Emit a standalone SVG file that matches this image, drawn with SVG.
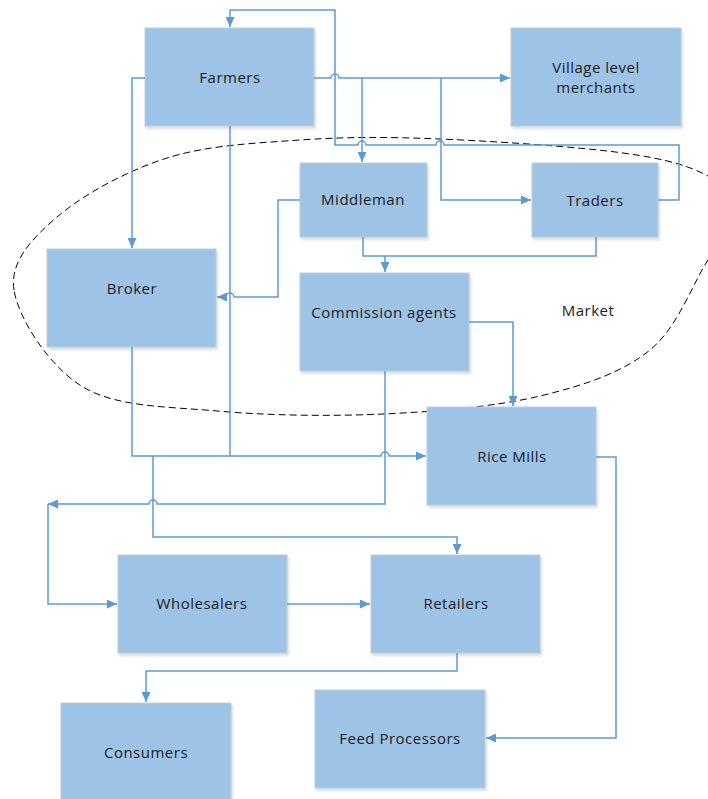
<svg xmlns="http://www.w3.org/2000/svg" width="708" height="799" viewBox="0 0 708 799">
  <style>
    .node rect { fill: #9dc3e6; stroke: #c6ccd3; stroke-width: 1; filter: url(#shadow); }
    .node text { font-family: "Open Sans", "Liberation Sans", sans-serif; font-size: 15px; letter-spacing: 0.5px; fill: #1c1c1c; text-anchor: middle; }
    .label { font-family: "Open Sans", "Liberation Sans", sans-serif; font-size: 15px; letter-spacing: 0.5px; fill: #1c1c1c; text-anchor: middle; }
    .conn path { fill: none; stroke: #5b9bd5; stroke-width: 1.5; }
    .conn path.arrow { marker-end: url(#arrowhead); }
    .market { fill: none; stroke: #000; stroke-width: 1; stroke-dasharray: 7 4; }
  </style>
  <defs>
    <marker id="arrowhead" markerUnits="userSpaceOnUse" markerWidth="11" markerHeight="9" refX="10" refY="4.5" orient="auto">
      <path d="M0,0 L10,4.5 L0,9 z" fill="#5b9bd5"/>
    </marker>
    <filter id="shadow" x="-5%" y="-5%" width="115%" height="120%">
      <feDropShadow dx="1.5" dy="2.5" stdDeviation="1.2" flood-color="#8aa4bf" flood-opacity="0.35"/>
    </filter>
  </defs>

  <rect width="708" height="799" fill="#ffffff"/>

  <!-- market boundary -->
  <path class="market" d="M14,290 C9.7,261.7 31.5,239 57,217 C82.5,195 126.5,170.8 167,158 C207.5,145.2 254.5,143.2 300,140 C345.5,136.8 386.2,136.8 440,139 C493.8,141.2 578.3,146.8 623,153 C667.7,159.2 688.5,165.7 708,176 C727.5,186.3 740,201 740,215 C740,229 723,237.5 708,260 C693,282.5 678,327.3 650,350 C622,372.7 584.5,385.3 540,396 C495.5,406.7 436.8,411.5 383,414 C329.2,416.5 267,415.5 217,411 C167,406.5 116.8,407.2 83,387 C49.2,366.8 18.3,318.3 14,290 Z"/>
  <text class="label" x="588" y="316">Market</text>

  <!-- nodes -->
  <g id="farmers" class="node"><rect x="145" y="28" width="169" height="98"/><text x="230" y="83">Farmers</text></g>
  <g id="village-merchants" class="node"><rect x="511" y="28" width="170" height="98"/><text x="596" y="73">Village level</text><text x="596" y="93">merchants</text></g>
  <g id="middleman" class="node"><rect x="300" y="163" width="127" height="74"/><text x="363" y="205">Middleman</text></g>
  <g id="traders" class="node"><rect x="532" y="163" width="126" height="74"/><text x="595" y="206">Traders</text></g>
  <g id="broker" class="node"><rect x="47" y="249" width="169" height="98"/><text x="132" y="294">Broker</text></g>
  <g id="commission-agents" class="node"><rect x="300" y="273" width="169" height="98"/><text x="384" y="318">Commission agents</text></g>
  <g id="rice-mills" class="node"><rect x="427" y="407" width="169" height="98"/><text x="512" y="462">Rice Mills</text></g>
  <g id="wholesalers" class="node"><rect x="118" y="555" width="169" height="98"/><text x="202" y="609">Wholesalers</text></g>
  <g id="retailers" class="node"><rect x="371" y="555" width="169" height="98"/><text x="456" y="609">Retailers</text></g>
  <g id="consumers" class="node"><rect x="61" y="703" width="170" height="100"/><text x="146" y="758">Consumers</text></g>
  <g id="feed-processors" class="node"><rect x="315" y="690" width="170" height="98"/><text x="400" y="744">Feed Processors</text></g>

  <!-- connectors -->
  <g id="connectors" class="conn">
    <!-- traders back to farmers, hopping over the farmer branches -->
    <path class="arrow" d="M658,200 H679 V145 H444 A4,4 0 0 0 436,145 H366 A4,4 0 0 0 358,145 H335 V10 H230 V27"/>
    <!-- farmers to village level merchants -->
    <path class="arrow" d="M314,78 H331 A4,4 0 0 1 339,78 H510"/>
    <!-- farmers to middleman -->
    <path class="arrow" d="M362,78 V162"/>
    <!-- farmers to traders -->
    <path class="arrow" d="M441,78 V200 H531"/>
    <!-- farmers to broker -->
    <path class="arrow" d="M145,78 H132 V248"/>
    <!-- farmers down to the rice mill line -->
    <path d="M230,126 V456"/>
    <!-- broker to rice mills -->
    <path class="arrow" d="M132,347 V456 H381 A4,4 0 0 1 389,456 H426"/>
    <!-- middleman to broker -->
    <path class="arrow" d="M300,200 H278 V297 H234 A4,4 0 0 0 226,297 H217"/>
    <!-- middleman and traders to commission agents -->
    <path d="M363,237 V256 H596 V237"/>
    <path class="arrow" d="M385,256 V272"/>
    <!-- commission agents to rice mills -->
    <path class="arrow" d="M469,322 H513 V406"/>
    <!-- commission agents to the wholesale route -->
    <path class="arrow" d="M385,371 V504 H157 A4,4 0 0 0 149,504 H48"/>
    <path class="arrow" d="M48,504 V604 H117"/>
    <!-- broker/farmers to retailers -->
    <path class="arrow" d="M153,456 V537 H457 V554"/>
    <!-- wholesalers to retailers -->
    <path class="arrow" d="M287,604 H370"/>
    <!-- retailers to consumers -->
    <path class="arrow" d="M457,653 V671 H146 V702"/>
    <!-- rice mills to feed processors -->
    <path class="arrow" d="M596,457 H616 V738 H486"/>
  </g>
</svg>
